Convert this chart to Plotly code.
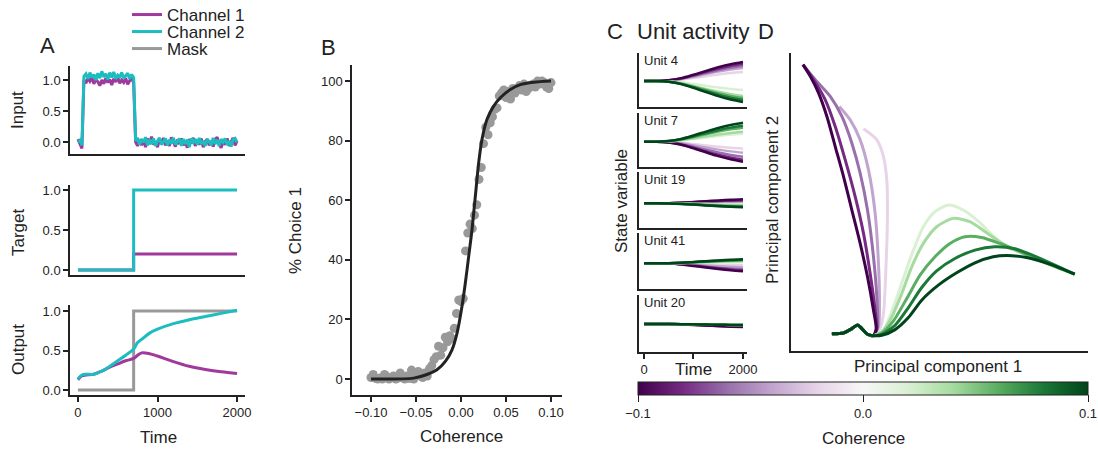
import plotly.graph_objects as go
from plotly.colors import sample_colorscale, diverging

W, H = 1098, 449

# ---------------- data ----------------
input_time = list(range(0, 2001, 25))
input_ch1 = [0.05, -0.02, -0.10, 1.00, 0.95, 1.03, 0.98, 1.04, 0.94, 1.01,
             0.97, 0.91, 1.00, 0.94, 1.03, 0.96, 1.01, 0.92, 1.02, 0.97,
             1.04, 0.95, 1.00, 0.96, 1.03, 0.93, 0.99, 1.02, 0.96, 0.00,
             -0.06, 0.04, -0.05, 0.03, -0.08, 0.06, -0.03, 0.09, -0.04, 0.01,
             -0.08, 0.05, -0.03, 0.07, -0.05, 0.02, -0.06, 0.08, 0.00, -0.07,
             0.04, -0.03, 0.06, -0.05, 0.01, -0.09, 0.05, -0.02, 0.07, -0.06,
             0.03, -0.04, 0.06, -0.08, 0.01, 0.05, -0.05, 0.02, -0.07, 0.04,
             0.08, -0.03, -0.09, 0.02, -0.04, 0.06, -0.06, 0.00, 0.07, -0.05,
             0.02]
input_ch2 = [0.00, 0.03, -0.05, 1.06, 1.10, 1.02, 1.12, 1.04, 1.09, 1.00,
             1.11, 1.03, 1.14, 1.05, 1.10, 1.01, 1.12, 1.04, 1.13, 1.02,
             1.08, 1.05, 1.12, 1.03, 1.07, 1.11, 1.02, 1.09, 1.04, 0.02,
             0.07, -0.04, 0.05, 0.00, 0.08, -0.05, 0.04, -0.03, 0.06, -0.06,
             0.02, 0.07, -0.04, 0.01, 0.06, -0.05, 0.04, -0.02, 0.07, -0.04,
             0.02, 0.06, -0.06, 0.05, -0.03, 0.04, -0.08, 0.06, 0.00, 0.05,
             -0.04, 0.07, -0.03, 0.02, -0.06, 0.05, 0.01, -0.05, 0.07, -0.03,
             0.04, -0.06, 0.05, 0.00, 0.06, -0.04, 0.02, -0.07, 0.04, 0.06,
             0.00]

target_time = [0, 700, 2000]
target_ch1 = [0.0, 0.2, 0.2]
target_ch2 = [0.0, 1.0, 1.0]

output_time = [0, 50, 100, 200, 300, 400, 500, 600, 700, 750, 800, 900, 1000,
               1200, 1400, 1600, 1800, 2000]
output_ch1 = [0.13, 0.18, 0.19, 0.20, 0.24, 0.29, 0.33, 0.37, 0.40, 0.44, 0.47,
              0.46, 0.43, 0.36, 0.30, 0.26, 0.23, 0.21]
output_ch2 = [0.14, 0.19, 0.20, 0.20, 0.24, 0.30, 0.37, 0.44, 0.52, 0.60, 0.64,
              0.72, 0.77, 0.84, 0.89, 0.93, 0.97, 1.01]
mask_time = [0, 700, 2000]
mask_vals = [0.0, 1.0, 1.0]

# psychometric curve
coherence = [round(-0.1 + 0.0025 * i, 4) for i in range(81)]
choice_pct = [0.5, 1.5, 0.2, 0.0, 0.3, 0.0, 1.5, 0.8, 0.0, 0.5,
              1.0, 0.0, 0.3, 2.0, 0.5, 0.0, 1.0, 0.2, 3.0, 0.0,
              1.5, 2.5, 1.0, 0.5, 2.0, 1.0, 3.5, 4.5, 6.5, 7.5,
              11.0, 8.0, 10.5, 14.0, 12.5, 14.5, 13.5, 17.0, 22.0, 26.5,
              26.0, 27.0, 43.0, 49.0, 52.0, 50.5, 55.0, 58.5, 67.0, 71.0,
              79.0, 84.5, 82.0, 86.0, 88.0, 90.5, 91.0, 95.0, 96.0, 97.0,
              94.5, 96.5, 94.0, 97.5, 96.0, 97.5, 98.5, 97.0, 99.0, 96.5,
              97.5, 98.5, 99.0, 98.0, 100.0, 99.0, 100.0, 99.5, 98.0, 97.5,
              99.5]
fit_coh = [-0.1, -0.0526, -0.0378, -0.0267, -0.0174, -0.010, -0.0044, 0.0011,
           0.0048, 0.0085, 0.0122, 0.0159, 0.0196, 0.0233, 0.0289, 0.0363,
           0.0437, 0.0548, 0.0659, 0.0807, 0.1]
fit_pct = [0.0, 0.3, 1.5, 3.1, 5.9, 9.8, 15.4, 24.4, 32.2, 41.1, 50.1, 61.3,
           72.5, 80.4, 87.2, 91.6, 94.4, 97.2, 98.8, 99.6, 100.0]

# unit activity (deviation from baseline at t=2000, per coherence level)
coh_levels = [-0.1, -0.08, -0.06, -0.04, -0.02, 0.02, 0.04, 0.06, 0.08, 0.1]
unit_names = ["Unit 4", "Unit 7", "Unit 19", "Unit 41", "Unit 20"]
unit_time = [0, 250, 500, 750, 1000, 1250, 1500, 1750, 2000]
unit_profile = [0.0, 0.0, 0.04, 0.15, 0.33, 0.53, 0.72, 0.88, 1.0]
unit4_end = [19, 17, 15, 13, 9, -9, -15, -17, -19, -21]
unit7_end = [-20, -18, -15, -11, -7, 8, 10, 14, 16, 19]
unit19_end = [4, 3, 2.5, 1.5, 1, -1, -2, -3, -3.5, -4]
unit41_end = [-8, -7, -6, -4, -2, 1, 2, 3, 3.5, 4]
unit20_end = [-3, -2.6, -2.2, -1.8, -1.4, -1.0, -1.0, -1.0, -1.0, -1.0]

# PCA trajectories (shared start, then one branch per coherence)
trunk_pc1 = [-1.85, -1.5, -1.25, -1.08, -0.95, -0.78, -0.6]
trunk_pc2 = [-0.10, -0.08, 0.05, 0.16, 0.05, -0.12, -0.16]
pc1_m10 = [-0.52, -0.6, -0.78, -1.0, -1.25, -1.5, -1.75, -2.0, -2.25, -2.5, -2.72]
pc2_m10 = [0.05, 0.6, 1.6, 2.6, 3.6, 4.6, 5.5, 6.4, 7.1, 7.6, 7.95]
pc1_m08 = [-0.5, -0.55, -0.7, -0.9, -1.15, -1.45, -1.75, -2.05, -2.4, -2.72]
pc2_m08 = [0.05, 0.6, 1.7, 2.9, 4.0, 5.1, 6.1, 6.9, 7.5, 7.95]
pc1_m06 = [-0.48, -0.5, -0.6, -0.78, -1.0, -1.25, -1.55, -1.9, -2.35, -2.72]
pc2_m06 = [0.1, 1.0, 2.2, 3.6, 4.7, 5.6, 6.4, 7.0, 7.5, 7.95]
pc1_m04 = [-0.45, -0.42, -0.45, -0.55, -0.75, -1.0, -1.3, -1.63]
pc2_m04 = [0.1, 0.8, 2.0, 3.5, 4.8, 5.7, 6.3, 6.7]
pc1_m02 = [-0.4, -0.3, -0.22, -0.18, -0.2, -0.3, -0.5, -0.9]
pc2_m02 = [0.07, 0.5, 2.0, 3.5, 4.5, 5.2, 5.7, 6.03]
pc1_p02 = [-0.3, 0.0, 0.3, 0.6, 0.9, 1.25, 1.65, 2.1, 2.6, 3.0, 3.4, 3.6]
pc2_p02 = [0.0, 0.7, 1.55, 2.4, 3.1, 3.55, 3.75, 3.6, 3.22, 2.82, 2.5, 2.4]
pc1_p04 = [-0.35, -0.05, 0.25, 0.55, 0.9, 1.3, 1.8, 2.3, 2.8, 3.4, 4.0, 4.7, 5.45]
pc2_p04 = [-0.05, 0.4, 1.1, 1.9, 2.6, 3.1, 3.35, 3.25, 2.92, 2.52, 2.25, 1.97, 1.68]
pc1_p06 = [-0.35, 0.0, 0.4, 0.8, 1.25, 1.7, 2.15, 2.65, 3.2, 3.8, 4.5, 5.45]
pc2_p06 = [-0.08, 0.28, 0.95, 1.65, 2.2, 2.6, 2.8, 2.78, 2.6, 2.36, 2.05, 1.68]
pc1_p08 = [-0.35, 0.05, 0.45, 0.85, 1.3, 1.85, 2.45, 3.05, 3.65, 4.3, 5.45]
pc2_p08 = [-0.12, 0.15, 0.68, 1.28, 1.78, 2.15, 2.4, 2.5, 2.44, 2.2, 1.68]
pc1_p10 = [-0.35, 0.05, 0.45, 0.85, 1.35, 1.9, 2.45, 3.0, 3.4, 4.0, 4.7, 5.45]
pc2_p10 = [-0.15, 0.02, 0.38, 0.9, 1.35, 1.72, 2.02, 2.2, 2.24, 2.18, 1.98, 1.68]

# ---------------- style ----------------
FONT = "Liberation Sans, Arial, Helvetica, sans-serif"
INK = "#222222"
C1 = "#a0399c"
C2 = "#1cbdc0"
GREY = "#999999"

level_colors = sample_colorscale(diverging.PRGn,
                                 [(c + 0.1) / 0.2 for c in coh_levels])
# purples light->dark, then greens light->dark (dark ones on top)
draw_order = [4, 3, 2, 1, 0, 5, 6, 7, 8, 9]


def xd(a, b):
    return [a / W, b / W]


def yd(top, bottom):
    return [1 - bottom / H, 1 - top / H]


def px(x, y):
    return dict(x=x / W, y=1 - y / H)


axis_style = dict(showline=True, linecolor=INK, linewidth=1.5, ticks="outside",
                  ticklen=5, tickwidth=1.5, tickcolor=INK, showgrid=False,
                  zeroline=False, tickfont=dict(size=13, color=INK, family=FONT))

fig = go.Figure()

# ---- A: input / target / output ----
fig.add_trace(go.Scatter(x=input_time, y=input_ch1, mode="lines", name="Channel 1",
                         legend="legend", line=dict(color=C1, width=3),
                         xaxis="x", yaxis="y"))
fig.add_trace(go.Scatter(x=input_time, y=input_ch2, mode="lines", name="Channel 2",
                         legend="legend2", line=dict(color=C2, width=3),
                         xaxis="x", yaxis="y"))
fig.add_trace(go.Scatter(x=target_time, y=target_ch1, mode="lines", showlegend=False,
                         line=dict(color=C1, width=3, shape="hv"), xaxis="x2", yaxis="y2"))
fig.add_trace(go.Scatter(x=target_time, y=target_ch2, mode="lines", showlegend=False,
                         line=dict(color=C2, width=3, shape="hv"), xaxis="x2", yaxis="y2"))
fig.add_trace(go.Scatter(x=mask_time, y=mask_vals, mode="lines", name="Mask",
                         legend="legend3", line=dict(color=GREY, width=3, shape="hv"),
                         xaxis="x3", yaxis="y3"))
fig.add_trace(go.Scatter(x=output_time, y=output_ch1, mode="lines", showlegend=False,
                         line=dict(color=C1, width=3, shape="spline"), xaxis="x3", yaxis="y3"))
fig.add_trace(go.Scatter(x=output_time, y=output_ch2, mode="lines", showlegend=False,
                         line=dict(color=C2, width=3, shape="spline"), xaxis="x3", yaxis="y3"))

# ---- B: psychometric ----
fig.add_trace(go.Scatter(x=coherence, y=choice_pct, mode="markers", showlegend=False,
                         marker=dict(color=GREY, size=9, line=dict(width=0)),
                         xaxis="x4", yaxis="y4"))
fig.add_trace(go.Scatter(x=fit_coh, y=fit_pct, mode="lines", showlegend=False,
                         line=dict(color=INK, width=3, shape="spline", smoothing=0.8),
                         xaxis="x4", yaxis="y4"))

# ---- C: unit activity ----
unit_ends = [unit4_end, unit7_end, unit19_end, unit41_end, unit20_end]
for u, ends in enumerate(unit_ends):
    ax = str(5 + u)
    for k in draw_order:
        fig.add_trace(go.Scatter(
            x=unit_time, y=[ends[k] * p for p in unit_profile], mode="lines",
            showlegend=False, line=dict(color=level_colors[k], width=2.5, shape="spline"),
            xaxis="x" + ax, yaxis="y" + ax))

# ---- D: PCA ----
branches = [(pc1_m10, pc2_m10), (pc1_m08, pc2_m08), (pc1_m06, pc2_m06),
            (pc1_m04, pc2_m04), (pc1_m02, pc2_m02), (pc1_p02, pc2_p02),
            (pc1_p04, pc2_p04), (pc1_p06, pc2_p06), (pc1_p08, pc2_p08),
            (pc1_p10, pc2_p10)]
for k in draw_order:
    bx, by = branches[k]
    fig.add_trace(go.Scatter(
        x=trunk_pc1 + bx, y=trunk_pc2 + by, mode="lines", showlegend=False,
        line=dict(color=level_colors[k], width=3, shape="spline", smoothing=0.7),
        xaxis="x10", yaxis="y10"))

# colorbar carrier
fig.add_trace(go.Scatter(
    x=[None], y=[None], mode="markers", showlegend=False, hoverinfo="skip",
    marker=dict(color=[0], cmin=-0.1, cmax=0.1, colorscale="PRGn", showscale=True,
                colorbar=dict(orientation="h", x=863 / W, xanchor="center",
                              y=1 - 382 / H, yanchor="top", len=450 / W,
                              lenmode="fraction", thickness=13, xpad=0, ypad=0,
                              outlinewidth=1, outlinecolor=INK, ticks="outside",
                              ticklen=7, tickcolor=INK, tickvals=[-0.1, 0, 0.1],
                              ticktext=["\u22120.1", "0.0", "0.1"],
                              tickfont=dict(size=13, color=INK, family=FONT))),
    xaxis="x10", yaxis="y10"))

# ---------------- layout ----------------
leg = dict(x=127 / W, xanchor="left", yanchor="middle",
           font=dict(size=17, family=FONT, color=INK), bgcolor="rgba(0,0,0,0)")
layout = dict(
    width=W, height=H, margin=dict(l=0, r=0, t=0, b=0, autoexpand=False),
    paper_bgcolor="white", plot_bgcolor="white",
    font=dict(family=FONT, color=INK, size=13),
    legend=dict(leg, y=1 - 15 / H),
    legend2=dict(leg, y=1 - 32 / H),
    legend3=dict(leg, y=1 - 49 / H),
)

a_x = dict(domain=xd(70, 245), range=[-100, 2100])
layout["xaxis"] = dict(axis_style, **a_x, showticklabels=False, ticks="")
layout["yaxis"] = dict(axis_style, domain=yd(66, 154), range=[-0.19, 1.226],
                       tickvals=[0, 0.5, 1], ticktext=["0.0", "0.5", "1.0"])
layout["xaxis2"] = dict(axis_style, **a_x, showticklabels=False, ticks="", anchor="y2")
layout["yaxis2"] = dict(axis_style, domain=yd(185, 275), range=[-0.0625, 1.0625],
                        tickvals=[0, 0.5, 1], ticktext=["0.0", "0.5", "1.0"], anchor="x2")
layout["xaxis3"] = dict(axis_style, **a_x, tickvals=[0, 1000, 2000], anchor="y3")
layout["yaxis3"] = dict(axis_style, domain=yd(305, 395), range=[-0.063, 1.076],
                        tickvals=[0, 0.5, 1], ticktext=["0.0", "0.5", "1.0"], anchor="x3")

layout["xaxis4"] = dict(axis_style, domain=xd(352, 562), range=[-0.1211, 0.1122],
                        tickvals=[-0.1, -0.05, 0, 0.05, 0.1], anchor="y4",
                        ticktext=["\u22120.10", "\u22120.05", "0.00", "0.05", "0.10"])
layout["yaxis4"] = dict(axis_style, domain=yd(65, 395), range=[-5.37, 105.4],
                        tickvals=[0, 20, 40, 60, 80, 100], anchor="x4")

unit_boxes = [(53, 107), (113, 167), (172, 228), (233, 289), (295, 352)]
unit_ranges = [[-26, 28], [-25.3, 28.7], [-24.7, 31.3], [-25.7, 30.3], [-28, 29]]
for u, (top, bottom) in enumerate(unit_boxes):
    n = str(5 + u)
    xa = dict(axis_style, domain=xd(639, 747), range=[-101, 2081],
              anchor="y" + n, showticklabels=False, ticks="")
    if u == len(unit_boxes) - 1:
        xa.update(ticks="outside", tickvals=[0, 1000, 2000], showticklabels=True,
                  ticktext=["0", "", "2000"])
    layout["xaxis" + n] = xa
    layout["yaxis" + n] = dict(axis_style, domain=yd(top, bottom), range=unit_ranges[u],
                               anchor="x" + n, showticklabels=False, ticks="")

layout["xaxis10"] = dict(axis_style, domain=xd(791, 1088), range=[-3.08, 5.85],
                         anchor="y10", showticklabels=False, ticks="")
layout["yaxis10"] = dict(axis_style, domain=yd(53, 351), range=[-0.62, 8.3],
                         anchor="x10", showticklabels=False, ticks="")


def label(text, x, y, size=17, angle=0):
    return dict(text=text, showarrow=False, xref="paper", yref="paper",
                xanchor="center", yanchor="middle", textangle=angle,
                font=dict(size=size, family=FONT, color=INK), **px(x, y))


annotations = [
    label("A", 47, 46, 22), label("B", 328, 47, 22), label("C", 615, 32, 22),
    label("Unit activity", 693, 32, 22), label("D", 766, 32, 22),
    label("Input", 18, 110, angle=-90), label("Target", 18, 232, angle=-90),
    label("Output", 18, 350, angle=-90), label("Time", 158, 437),
    label("% Choice 1", 296, 231, angle=-90), label("Coherence", 461, 436),
    label("State variable", 621, 201, angle=-90), label("Time", 693, 369),
    label("Principal component 2", 772, 200, angle=-90),
    label("Principal component 1", 938, 366),
    label("Coherence", 863, 438),
]
for name, (top, _) in zip(unit_names, unit_boxes):
    annotations.append(dict(text=name, showarrow=False, xref="paper", yref="paper",
                            xanchor="left", yanchor="middle",
                            font=dict(size=13, family=FONT, color=INK),
                            **px(642, top + 7)))
layout["annotations"] = annotations

fig.update_layout(**layout)
fig.write_html("out.html", config={"displayModeBar": False},
               post_script="document.body.style.margin='0';")
